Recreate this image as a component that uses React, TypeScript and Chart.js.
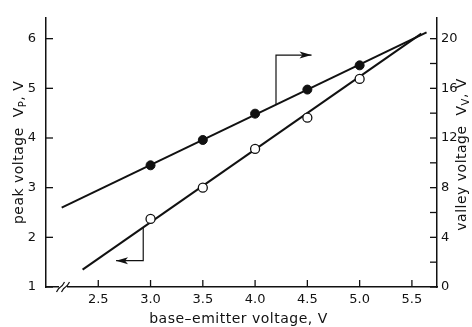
import React, { useEffect, useRef } from "react";
import { Chart, registerables } from "chart.js";

Chart.register(...registerables);

// ---- data ----
const pointX = [3.0, 3.5, 4.0, 4.5, 5.0];
const peakVoltage = [2.37, 3.0, 3.78, 4.41, 5.19];
const valleyVoltage = [9.8, 11.84, 13.96, 15.9, 17.85];

const peakFitX = [2.35, 5.59];
const peakFitY = [1.35, 6.1];
const valleyFitX = [2.15, 5.64];
const valleyFitY = [6.4, 20.5];

const xTicks = [2.5, 3.0, 3.5, 4.0, 4.5, 5.0, 5.5];
const peakTicks = [1, 2, 3, 4, 5, 6];
const valleyTicks = [0, 2, 4, 6, 8, 10, 12, 14, 16, 18, 20];
const valleyLabels = [0, 4, 8, 12, 16, 20];

// indicator arrows (x, peak-axis value)
const valleyArrowX = [4.2, 4.2, 4.54];
const valleyArrowY = [4.67, 5.67, 5.67];
const peakArrowX = [2.93, 2.93, 2.67];
const peakArrowY = [2.2, 1.53, 1.53];

const FONT = "'DejaVu Sans', sans-serif";
const INK = "#111";

const xy = (xs: number[], ys: number[]) => xs.map((x, i) => ({ x, y: ys[i] }));

const decorPlugin = {
  id: "decor",
  afterDraw(chart: any) {
    const ctx = chart.ctx as CanvasRenderingContext2D;
    const { x, y, y2 } = chart.scales;
    const area = chart.chartArea;
    ctx.save();
    ctx.strokeStyle = INK;
    ctx.fillStyle = INK;
    ctx.lineWidth = 1.3;
    // inward tick marks
    x.ticks.forEach((t: any) => {
      const px = x.getPixelForValue(t.value);
      ctx.beginPath();
      ctx.moveTo(px, area.bottom);
      ctx.lineTo(px, area.bottom - 7);
      ctx.stroke();
    });
    y.ticks.forEach((t: any) => {
      const py = y.getPixelForValue(t.value);
      ctx.beginPath();
      ctx.moveTo(area.left, py);
      ctx.lineTo(area.left + 7, py);
      ctx.stroke();
    });
    y2.ticks.forEach((t: any) => {
      const py = y2.getPixelForValue(t.value);
      ctx.beginPath();
      ctx.moveTo(area.right, py);
      ctx.lineTo(area.right - 7, py);
      ctx.stroke();
    });

    // axis break mark on x axis
    const bx = area.left + 17;
    const by = area.bottom;
    ctx.fillStyle = "#fff";
    ctx.fillRect(bx - 4, by - 2, 8, 4);
    ctx.fillStyle = INK;
    ctx.lineWidth = 1.2;
    [-2.5, 2.5].forEach((d) => {
      ctx.beginPath();
      ctx.moveTo(bx + d - 4, by + 5);
      ctx.quadraticCurveTo(bx + d - 2, by + 1, bx + d, by);
      ctx.quadraticCurveTo(bx + d + 2, by - 1, bx + d + 4, by - 5);
      ctx.stroke();
    });

    // arrowheads on indicator arrows
    [2, 3].forEach((di) => {
      const meta = chart.getDatasetMeta(di);
      const pts = meta.data;
      const a = pts[pts.length - 2];
      const b = pts[pts.length - 1];
      const ang = Math.atan2(b.y - a.y, b.x - a.x);
      const L = 12;
      const W = 3.5;
      ctx.beginPath();
      ctx.moveTo(b.x, b.y);
      ctx.lineTo(b.x - L * Math.cos(ang) + W * Math.sin(ang), b.y - L * Math.sin(ang) - W * Math.cos(ang));
      ctx.lineTo(b.x - L * 0.75 * Math.cos(ang), b.y - L * 0.75 * Math.sin(ang));
      ctx.lineTo(b.x - L * Math.cos(ang) - W * Math.sin(ang), b.y - L * Math.sin(ang) + W * Math.cos(ang));
      ctx.closePath();
      ctx.fill();
    });

    // axis titles
    (ctx as any).letterSpacing = "0.5px";
    ctx.textBaseline = "alphabetic";
    const drawParts = (parts: { t: string; sub?: boolean }[], cx: number, cy: number, rot: number) => {
      const main = `14px ${FONT}`;
      const small = `10px ${FONT}`;
      let total = 0;
      parts.forEach((p) => {
        ctx.font = p.sub ? small : main;
        total += ctx.measureText(p.t).width;
      });
      ctx.save();
      ctx.translate(cx, cy);
      ctx.rotate(rot);
      ctx.textAlign = "left";
      let cur = -total / 2;
      parts.forEach((p) => {
        ctx.font = p.sub ? small : main;
        ctx.fillText(p.t, cur, p.sub ? 8 : 5);
        cur += ctx.measureText(p.t).width;
      });
      ctx.restore();
    };
    drawParts([{ t: "base\u2013emitter voltage, V" }], (area.left + area.right) / 2 - 3, 318, 0);
    drawParts(
      [{ t: "peak voltage  V" }, { t: "P", sub: true }, { t: ", V" }],
      18,
      (area.top + area.bottom) / 2,
      -Math.PI / 2
    );
    drawParts(
      [{ t: "valley voltage  V" }, { t: "V", sub: true }, { t: ", V" }],
      461,
      (area.top + area.bottom) / 2 + 2,
      -Math.PI / 2
    );
    ctx.restore();
  },
};

export default function App() {
  const ref = useRef<HTMLCanvasElement>(null);

  useEffect(() => {
    document.body.style.margin = "0";
    Chart.defaults.font.family = FONT;
    const chart = new Chart(ref.current as HTMLCanvasElement, {
      type: "scatter",
      data: {
        datasets: [
          {
            label: "valley",
            data: xy(pointX, valleyVoltage),
            yAxisID: "y2",
            showLine: false,
            pointRadius: 4.5,
            pointBackgroundColor: INK,
            pointBorderColor: INK,
            pointBorderWidth: 1,
          },
          {
            label: "peak",
            data: xy(pointX, peakVoltage),
            yAxisID: "y",
            showLine: false,
            pointRadius: 4.5,
            pointBackgroundColor: "#fff",
            pointBorderColor: INK,
            pointBorderWidth: 1.3,
          },
          {
            label: "valley arrow",
            data: xy(valleyArrowX, valleyArrowY),
            yAxisID: "y",
            showLine: true,
            pointRadius: 0,
            borderColor: INK,
            borderWidth: 1.2,
          },
          {
            label: "peak arrow",
            data: xy(peakArrowX, peakArrowY),
            yAxisID: "y",
            showLine: true,
            pointRadius: 0,
            borderColor: INK,
            borderWidth: 1.2,
          },
          {
            label: "valley fit",
            data: xy(valleyFitX, valleyFitY),
            yAxisID: "y2",
            showLine: true,
            pointRadius: 0,
            borderColor: INK,
            borderWidth: 2,
          },
          {
            label: "peak fit",
            data: xy(peakFitX, peakFitY),
            yAxisID: "y",
            showLine: true,
            pointRadius: 0,
            borderColor: INK,
            borderWidth: 2,
          },
        ],
      },
      options: {
        responsive: false,
        animation: false,
        devicePixelRatio: 1,
        layout: { padding: { top: 10, left: 0, right: 0, bottom: 0 } },
        plugins: {
          legend: { display: false },
          tooltip: { enabled: false },
        },
        scales: {
          x: {
            type: "linear",
            position: "bottom",
            min: 2.0,
            max: 5.74,
            afterBuildTicks: (s: any) => {
              s.ticks = xTicks.map((v) => ({ value: v }));
            },
            afterFit: (s: any) => {
              s.height = 40;
            },
            grid: { display: true, drawOnChartArea: false, drawTicks: false },
            border: { display: true, color: INK, width: 1.5 },
            ticks: {
              padding: 5,
              color: INK,
              font: { size: 13, family: FONT },
              callback: (v: any) => Number(v).toFixed(1),
            },
          },
          y: {
            type: "linear",
            position: "left",
            min: 1,
            max: 6.42,
            afterBuildTicks: (s: any) => {
              s.ticks = peakTicks.map((v) => ({ value: v }));
            },
            afterFit: (s: any) => {
              s.width = 46;
            },
            grid: { display: true, drawOnChartArea: false, drawTicks: false },
            border: { display: true, color: INK, width: 1.5 },
            ticks: {
              padding: 10,
              color: INK,
              font: { size: 13, family: FONT },
              callback: (v: any) => String(v),
            },
          },
          y2: {
            type: "linear",
            position: "right",
            min: 0,
            max: 21.68,
            afterBuildTicks: (s: any) => {
              s.ticks = valleyTicks.map((v) => ({ value: v }));
            },
            afterFit: (s: any) => {
              s.width = 35;
            },
            grid: { display: true, drawOnChartArea: false, drawTicks: false },
            border: { display: true, color: INK, width: 1.5 },
            ticks: {
              padding: 4,
              color: INK,
              font: { size: 13, family: FONT },
              autoSkip: false,
              callback: (v: any) => (valleyLabels.includes(Number(v)) ? String(v) : ""),
            },
          },
        },
      },
      plugins: [decorPlugin],
    } as any);
    return () => chart.destroy();
  }, []);

  return (
    <div style={{ width: 472, height: 327 }}>
      <canvas ref={ref} width={472} height={327} />
    </div>
  );
}
